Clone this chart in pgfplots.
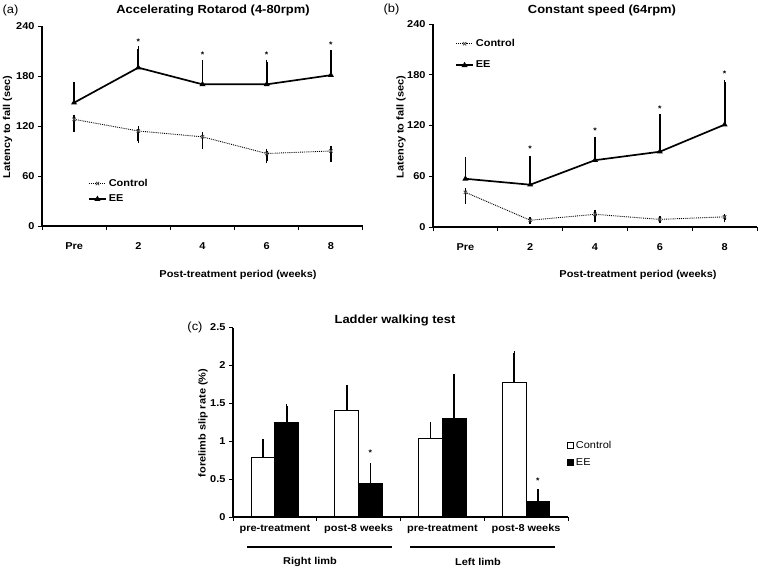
\documentclass[border=0pt]{standalone}
\usepackage{pgfplots}
\pgfplotsset{compat=1.18}
\usepackage{fontspec}
\setmainfont{Liberation Sans}[FakeStretch=1.1]
\newcommand{\fsz}{\fontsize{10}{12}\selectfont}
\newcommand{\tsz}{\fontsize{11.8}{14}\selectfont}
\newcommand{\asz}{\fontsize{8}{9}\selectfont\bfseries}
\begin{document}
\begin{tikzpicture}[x=1bp,y=1bp]
\useasboundingbox (0bp,0bp) rectangle (760bp,-570bp);
\pgfplotsset{
  common/.style={
    scale only axis,
    clip=false,
    axis x line*=bottom, axis y line*=left,
    axis line style={line width=1.1bp, -},
    tick align=outside,
    major tick length=4bp,
    tick style={line width=1bp, black},
    tick label style={font=\fsz\bfseries},
    /pgf/number format/assume math mode=true,
    legend cell align=left,
  },
  myline/.style={
    common,
    xmin=-0.5, xmax=4.5,
    ymin=0, ymax=240, ytick={0,60,120,180,240},
    xtick={-0.5,0.5,...,4.5}, xticklabels={},
    extra x ticks={0,1,2,3,4},
    extra x tick labels={Pre,2,4,6,8},
    extra x tick style={major tick length=0pt, tick label style={yshift=-13bp}},
    legend style={draw=none, fill=none, inner sep=0pt, font=\fsz\bfseries},
  },
  ctrl/.style={densely dotted, line width=0.9bp, black, mark=x, mark size=2.3bp,
    mark options={solid, gray!60!black},
    error bars/.cd, y dir=both, y explicit,
    error bar style={line width=1.8bp, solid, black},
    error mark options={line width=1.5bp, mark size=2.2bp, black, solid}},
  ee/.style={solid, line width=1.7bp, black, mark=triangle*, mark size=1.8bp,
    error bars/.cd, y dir=plus, y explicit,
    error bar style={line width=1.8bp, solid, black},
    error mark options={line width=1.5bp, mark size=2.2bp, black, solid}},
}
% ---------------- (a)
\begin{axis}[myline, at={(42bp,-226bp)}, anchor=south west, width=321bp, height=200bp,
  legend style={at={(0.143,0.245)}, anchor=north west, row sep=3bp}]
\addplot+[ctrl] table[x=x, y=y, y error plus=ep, y error minus=em] {
x y ep em
0 128 3 12
1 114 3 12
2 107 3 12
3 87 3 9
4 90 3 10
};
\addlegendentry{Control}
\addplot+[ee] coordinates {(0,148) +- (0,22) (1,190) +- (0,23) (2,170) +- (0,26) (3,170) +- (0,27) (4,181) +- (0,27)};
\addlegendentry{EE}
\node[font=\asz] at (axis cs:1,221) {*};
\node[font=\asz] at (axis cs:2,205) {*};
\node[font=\asz] at (axis cs:3,206) {*};
\node[font=\asz] at (axis cs:4,218) {*};
\end{axis}
\node[font=\tsz\bfseries] at (213bp,-10bp) {Accelerating Rotarod (4-80rpm)};
\node[font=\tsz, anchor=west] at (-1bp,-10bp) {(a)};
\node[font=\fsz\bfseries, rotate=90] at (7.5bp,-127bp) {Latency to fall (sec)};
\node[font=\fsz\bfseries] at (238bp,-275bp) {Post-treatment period (weeks)};
% ---------------- (b)
\begin{axis}[myline, at={(433bp,-227bp)}, anchor=south west, width=324bp, height=203bp,
  legend style={at={(0.068,0.935)}, anchor=north west, row sep=9bp}]
\addplot+[ctrl] table[x=x, y=y, y error plus=ep, y error minus=em] {
x y ep em
0 41 2 11
1 8 1 2
2 15 2 7
3 9 1 2
4 12 1 4
};
\addlegendentry{Control}
\addplot+[ee] coordinates {(0,57) +- (0,23) (1,50) +- (0,31) (2,79) +- (0,25) (3,89) +- (0,42) (4,121) +- (0,50)};
\addlegendentry{EE}
\node[font=\asz] at (axis cs:1,93) {*};
\node[font=\asz] at (axis cs:2,114) {*};
\node[font=\asz] at (axis cs:3,140) {*};
\node[font=\asz] at (axis cs:4,181) {*};
\end{axis}
\node[font=\tsz\bfseries] at (602bp,-10bp) {Constant speed (64rpm)};
\node[font=\tsz, anchor=west] at (380bp,-9bp) {(b)};
\node[font=\fsz\bfseries, rotate=90] at (401bp,-127bp) {Latency to fall (sec)};
\node[font=\fsz\bfseries] at (638bp,-275bp) {Post-treatment period (weeks)};
% ---------------- (c)
\begin{axis}[common, at={(233bp,-517bp)}, anchor=south west, width=335bp, height=189.5bp,
  ybar=0pt, bar width=23.7bp,
  xmin=-0.5, xmax=3.5, ymin=0, ymax=2.5,
  ytick={0,0.5,1,1.5,2,2.5},
  xtick={-0.5,0.5,...,3.5}, xticklabels={},
  extra x ticks={0,1,2,3},
  extra x tick labels={pre-treatment,post-8 weeks,pre-treatment,post-8 weeks},
  extra x tick style={major tick length=0pt, tick label style={yshift=-4bp}},
  legend style={draw=none, fill=none, inner sep=0pt, font=\fsz, at={(0.997,0.41)}, anchor=north west, row sep=4bp},
  ]
\addplot[draw=black, fill=white, line width=1.1bp,
  legend image code/.code={\draw[draw=black, fill=white, line width=0.8bp] (0bp,-3bp) rectangle (6bp,3bp);},
  error bars/.cd, y dir=plus, y explicit,
  error bar style={line width=1.8bp, black},
  error mark options={line width=1.5bp, mark size=2.2bp, black}]
  coordinates {(0,0.79) +- (0,0.21) (1,1.41) +- (0,0.30) (2,1.03) +- (0,0.20) (3,1.78) +- (0,0.38)};
\addlegendentry{Control}
\addplot[draw=black, fill=black, line width=1.1bp,
  legend image code/.code={\draw[draw=black, fill=black, line width=0.8bp] (0bp,-3bp) rectangle (6bp,3bp);},
  error bars/.cd, y dir=plus, y explicit,
  error bar style={line width=1.8bp, black},
  error mark options={line width=1.5bp, mark size=2.2bp, black}]
  coordinates {(0,1.25) +- (0,0.21) (1,0.44) +- (0,0.24) (2,1.30) +- (0,0.56) (3,0.21) +- (0,0.13)};
\addlegendentry{EE}
\node[font=\asz] at (axis cs:1.141,0.85) {*};
\node[font=\asz] at (axis cs:3.141,0.48) {*};
\end{axis}
\draw[line width=1.5bp] (247bp,-547bp) -- (392bp,-547bp);
\draw[line width=1.5bp] (410bp,-547bp) -- (555bp,-547bp);
\node[font=\fsz\bfseries] at (310bp,-562bp) {Right limb};
\node[font=\fsz\bfseries] at (478bp,-562bp) {Left limb};
\node[font=\tsz\bfseries] at (395bp,-320bp) {Ladder walking test};
\node[font=\tsz] at (195bp,-327bp) {(c)};
\node[font=\fsz\bfseries, rotate=90] at (203bp,-423bp) {forelimb slip rate (\%)};
\end{tikzpicture}
\end{document}
